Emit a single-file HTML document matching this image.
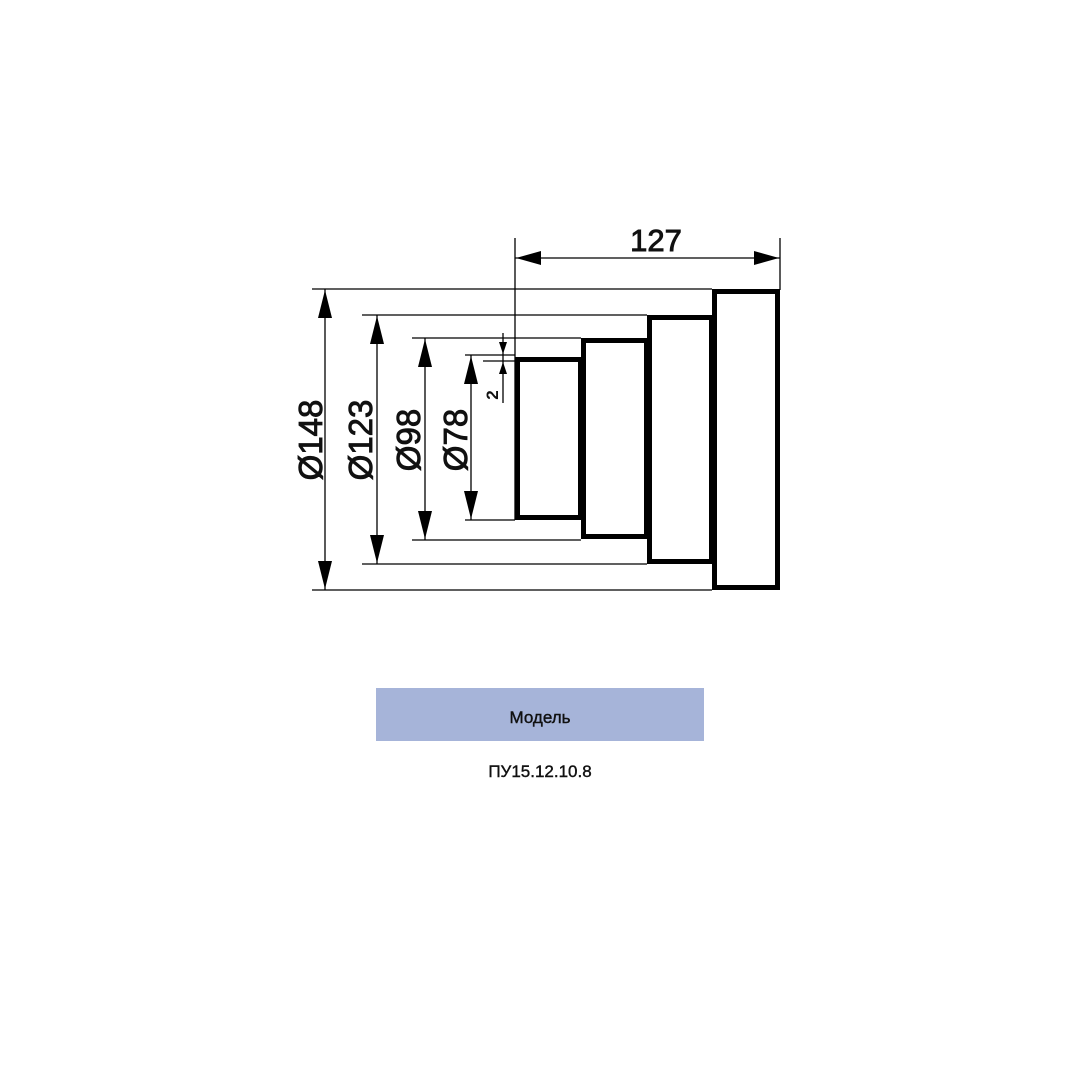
<!DOCTYPE html>
<html><head><meta charset="utf-8"><style>
html,body{margin:0;padding:0;background:#fff;}
svg{display:block;}
text{font-family:"Liberation Sans","DejaVu Sans",sans-serif;fill:#111;}
</style></head><body>
<svg width="1080" height="1080" viewBox="0 0 1080 1080" xmlns="http://www.w3.org/2000/svg">
<rect width="1080" height="1080" fill="#fff"/>
<g fill="none" stroke="#000" stroke-width="5">
<rect x="714.5" y="291.5" width="63" height="296"/>
<rect x="649.5" y="317.5" width="62" height="244"/>
<rect x="583.5" y="340.5" width="63" height="196"/>
<rect x="517.5" y="359.5" width="63" height="158"/>
</g>
<g stroke="#000" stroke-width="1.3" fill="none">
<line x1="312" y1="289" x2="712" y2="289"/>
<line x1="312" y1="590" x2="712" y2="590"/>
<line x1="362" y1="315" x2="647" y2="315"/>
<line x1="362" y1="564" x2="647" y2="564"/>
<line x1="412" y1="338" x2="581" y2="338"/>
<line x1="412" y1="540" x2="581" y2="540"/>
<line x1="465" y1="355" x2="515" y2="355"/>
<line x1="465" y1="520" x2="515" y2="520"/>
<line x1="483" y1="361" x2="515" y2="361"/>
<line x1="325" y1="289" x2="325" y2="590"/>
<line x1="377" y1="315" x2="377" y2="564"/>
<line x1="425" y1="338" x2="425" y2="540"/>
<line x1="471" y1="355" x2="471" y2="520"/>
<line x1="503" y1="333" x2="503" y2="403"/>
<line x1="515" y1="238" x2="515" y2="520"/>
<line x1="780" y1="238" x2="780" y2="290"/>
<line x1="515" y1="258" x2="780" y2="258"/>
</g>
<g fill="#000">
<polygon points="325,290 318,318 332,318"/><polygon points="325,589 318,561 332,561"/>
<polygon points="377,316 370,344 384,344"/><polygon points="377,563 370,535 384,535"/>
<polygon points="425,339 418,367 432,367"/><polygon points="425,539 418,511 432,511"/>
<polygon points="471,356 464,384 478,384"/><polygon points="471,519 464,491 478,491"/>
<polygon points="503,354 499,342 507,342"/><polygon points="503,362 499,374 507,374"/>
<polygon points="516,258 541,251 541,265"/><polygon points="779,258 754,251 754,265"/>
</g>
<g stroke="#111" stroke-width="0.9">
<text x="656" y="251" font-size="31" text-anchor="middle">127</text>
<text transform="translate(322,440) rotate(-90)" font-size="33" text-anchor="middle">Ø148</text>
<text transform="translate(372,440) rotate(-90)" font-size="33" text-anchor="middle">Ø123</text>
<text transform="translate(420,440) rotate(-90)" font-size="33" text-anchor="middle">Ø98</text>
<text transform="translate(467,440) rotate(-90)" font-size="33" text-anchor="middle">Ø78</text>
</g>
<text transform="translate(498,395) rotate(-90)" font-size="17" font-weight="bold" text-anchor="middle">2</text>
<rect x="376" y="688" width="328" height="53" fill="#a6b4d9"/>
<text x="540" y="723" font-size="17" text-anchor="middle" stroke="#111" stroke-width="0.4">Модель</text>
<text x="540" y="777" font-size="17" text-anchor="middle" stroke="#111" stroke-width="0.4">ПУ15.12.10.8</text>
</svg>
</body></html>
